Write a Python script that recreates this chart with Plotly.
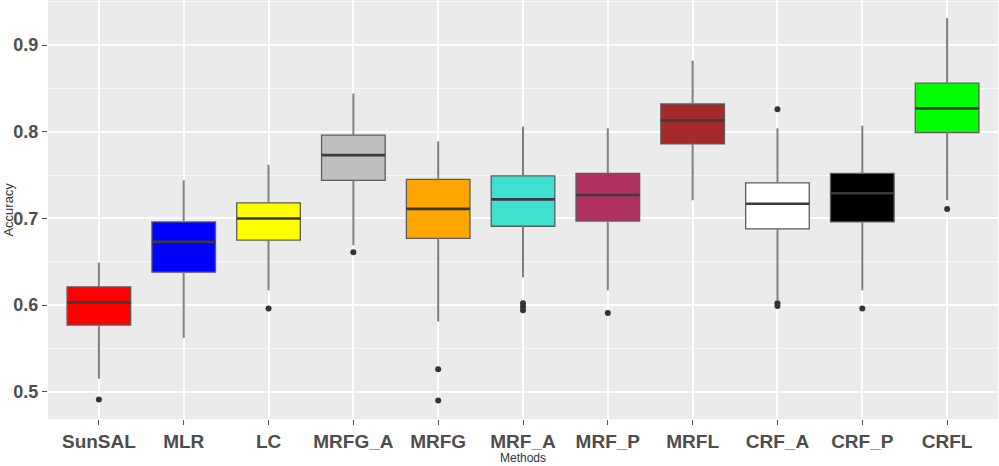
import plotly.graph_objects as go

methods = ["SunSAL", "MLR", "LC", "MRFG_A", "MRFG", "MRF_A", "MRF_P", "MRFL", "CRF_A", "CRF_P", "CRFL"]
fill_colors = ["#FF0000", "#0000FF", "#FFFF00", "#BEBEBE", "#FFA500", "#40E0D0", "#B03060", "#A52A2A", "#FFFFFF", "#000000", "#00FF00"]

lower_whisker = [0.515, 0.562, 0.617, 0.669, 0.581, 0.632, 0.617, 0.721, 0.606, 0.617, 0.721]
q1 =            [0.577, 0.638, 0.675, 0.744, 0.677, 0.691, 0.697, 0.786, 0.688, 0.696, 0.799]
median =        [0.603, 0.673, 0.700, 0.773, 0.711, 0.722, 0.727, 0.813, 0.717, 0.729, 0.827]
q3 =            [0.621, 0.696, 0.718, 0.796, 0.745, 0.749, 0.752, 0.832, 0.741, 0.752, 0.856]
upper_whisker = [0.649, 0.744, 0.762, 0.844, 0.789, 0.806, 0.804, 0.882, 0.804, 0.807, 0.931]

outlier_method = ["SunSAL", "LC", "MRFG_A", "MRFG", "MRFG", "MRF_A", "MRF_A", "MRF_A", "MRF_P", "CRF_A", "CRF_A", "CRF_A", "CRF_P", "CRFL"]
outlier_value =  [0.491, 0.596, 0.661, 0.526, 0.490, 0.602, 0.598, 0.594, 0.591, 0.826, 0.602, 0.599, 0.596, 0.711]

y_ticks = [0.5, 0.6, 0.7, 0.8, 0.9]

BOX_W = 0.75
pos = {m: i for i, m in enumerate(methods)}

fig = go.Figure()

# whiskers (grey, drawn separately like ggplot)
wx, wy = [], []
for i, m in enumerate(methods):
    wx += [i, i, None, i, i, None]
    wy += [lower_whisker[i], q1[i], None, q3[i], upper_whisker[i], None]
fig.add_trace(go.Scatter(x=wx, y=wy, mode="lines",
                         line=dict(color="#7F7F7F", width=2),
                         showlegend=False, hoverinfo="skip"))

for i, m in enumerate(methods):
    fig.add_trace(go.Box(
        x=[i], q1=[q1[i]], median=[median[i]], q3=[q3[i]],
        lowerfence=[q1[i]], upperfence=[q3[i]],
        fillcolor=fill_colors[i], line=dict(color="#5C5C5C", width=1.3),
        width=BOX_W, whiskerwidth=0, boxpoints=False, showlegend=False,
        hoverinfo="skip",
    ))

fig.add_trace(go.Scatter(
    x=[pos[m] for m in outlier_method], y=outlier_value, mode="markers",
    marker=dict(color="#333333", size=6), showlegend=False, hoverinfo="skip",
))

median_shapes = [
    dict(type="line", xref="x", yref="y",
         x0=i - BOX_W / 2, x1=i + BOX_W / 2, y0=median[i], y1=median[i],
         line=dict(color="#3A3A3A", width=2.6), layer="above")
    for i in range(len(methods))
]

fig.update_layout(
    width=999, height=466,
    margin=dict(l=48, r=1, t=0, b=47),
    paper_bgcolor="white", plot_bgcolor="#EBEBEB",
    boxmode="overlay",
    font=dict(family="Liberation Sans, Arial, sans-serif"),
    shapes=median_shapes,
    annotations=[
        dict(text="Accuracy", xref="paper", yref="paper", x=-0.042, y=0.5,
             textangle=-90, showarrow=False, xanchor="center", yanchor="middle",
             font=dict(size=13, color="#333333")),
        dict(text="Methods", xref="paper", yref="paper", x=0.5, y=-0.092,
             showarrow=False, xanchor="center", yanchor="middle",
             font=dict(size=12, color="#333333")),
    ],
)
fig.update_xaxes(
    tickvals=list(range(len(methods))), ticktext=methods,
    range=[-0.6, len(methods) - 0.4],
    showgrid=True, gridcolor="white", gridwidth=1.5,
    ticks="outside", ticklen=5, tickcolor="#555555",
    tickfont=dict(size=19, color="#4D4D4D", family="Liberation Sans, Arial, sans-serif", weight="bold"),
    showline=False, zeroline=False,
)
fig.update_yaxes(
    range=[0.4686, 0.952],
    tickvals=y_ticks, ticktext=[f"{v:.1f}" for v in y_ticks],
    showgrid=True, gridcolor="white", gridwidth=1.5,
    minor=dict(dtick=0.05, tick0=0.45, showgrid=True, gridcolor="#F7F7F7", gridwidth=1),
    ticks="outside", ticklen=5, tickcolor="#555555",
    tickfont=dict(size=18, color="#4D4D4D", family="Liberation Sans, Arial, sans-serif", weight="bold"),
    showline=False, zeroline=False,
)

fig.write_html("out.html")
